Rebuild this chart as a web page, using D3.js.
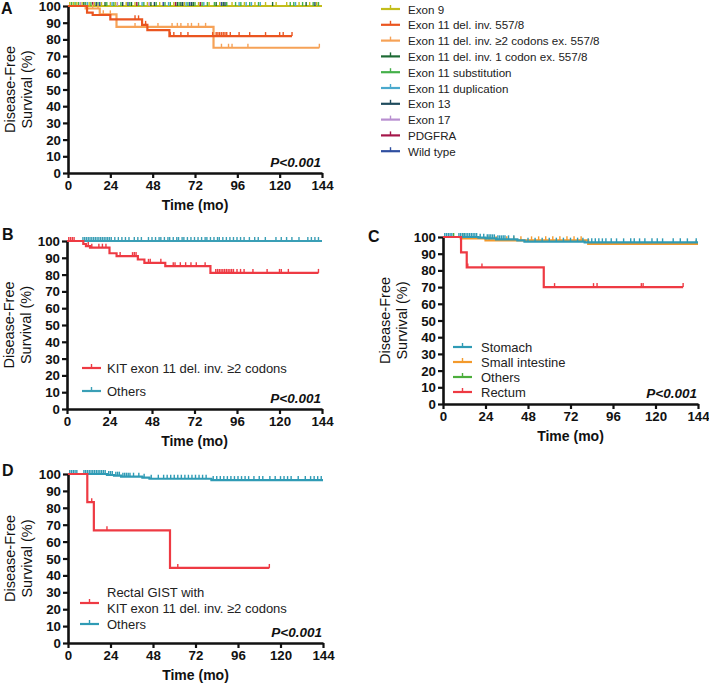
<!DOCTYPE html>
<html><head><meta charset="utf-8">
<script src="https://cdn.jsdelivr.net/npm/d3@7"></script>
<style>
body{margin:0;background:#fff;}
svg{display:block;font-family:"Liberation Sans",Arial,sans-serif;}
</style></head>
<body>
<svg id="c" width="709" height="684"></svg>
<script>
// ---------- tick labels ----------
const timeTicks = [0, 24, 48, 72, 96, 120, 144];
const survTicks = [0, 10, 20, 30, 40, 50, 60, 70, 80, 90, 100];

// ---------- Panel A ----------
const aLegend = ["Exon 9", "Exon 11 del. inv. 557/8", "Exon 11 del. inv. \u22652 codons ex. 557/8",
  "Exon 11 del. inv. 1 codon ex. 557/8", "Exon 11 substitution", "Exon 11 duplication",
  "Exon 13", "Exon 17", "PDGFRA", "Wild type"];
const aColors = ["#c3bd1c", "#ea5520", "#f6a257", "#1d6a34", "#45b04a", "#4aa9cd",
  "#1f4b5d", "#b88fd0", "#a5174a", "#2f4fa0"];
const a557Steps = [[0, 100], [10.8, 96], [14, 94.6], [24, 92], [42, 88.7], [45, 85.5], [57.5, 82], [127, 82]];
const a557Censor = [38, 40, 44, 58, 60, 64, 68, 82, 84, 85, 86, 87, 88, 89, 90, 92, 97, 103, 112, 120, 122, 127];
const a2codSteps = [[0, 100], [10, 98.5], [18, 95], [27.5, 87.5], [82.5, 75], [142.5, 75]];
const a2codCensor = [14, 17, 20, 24, 38, 44, 51, 59, 62, 64, 68, 70, 74, 78, 87, 91, 93, 102, 142.5];
const aExon9Censor = [1, 3, 5, 8, 12, 15, 19, 24, 27, 33, 38, 45, 52, 60, 66, 74, 80, 86, 93, 100, 106, 112, 118, 124, 131, 137, 141];
const a1codCensor = [9, 21, 36, 47, 62, 64, 71, 84, 88, 116, 135];
const aSubstCensor = [2, 4, 6, 10, 13, 17, 22, 26, 30, 35, 40, 43, 50, 55, 58, 63, 68, 72, 76, 79, 83, 90, 95, 98, 103, 108, 126, 128, 133, 139, 142];
const aDupCensor = [11, 25, 42, 57, 67, 77, 97, 101, 104, 109, 129];
const aExon13Censor = [16, 31, 49, 65, 70, 89, 140];
const aExon17Censor = [7, 28, 46];
const aPdgfraCensor = [14, 39, 61, 75];
const aWildCensor = [18, 34, 54, 69, 87];

// ---------- Panel B ----------
const bLegend = ["KIT exon 11 del. inv. \u22652 codons", "Others"];
const bColors = ["#ee3a43", "#3a9fb6"];
const bKitSteps = [[0, 100], [9.2, 98.2], [10.7, 97], [13, 96], [24, 92.7], [28, 91], [40, 89], [43.7, 87], [55.5, 85], [81, 81], [142, 81]];
const bKitCensor = [1, 2, 3, 4, 12, 14, 18, 20, 22, 30, 37, 38, 39, 40, 46, 47, 53, 60, 61, 64, 67, 70, 73, 78, 84, 85, 86, 87, 88, 89, 90, 91, 92, 93, 94, 96, 98, 100, 105, 113, 120, 121, 125, 142];
const bOthSteps = [[0, 100], [144, 100]];
const bOthCensor = [9, 10, 11, 12, 13, 14, 15, 16, 17, 18, 19, 20, 21, 22, 23, 24, 25, 27, 29, 31, 33, 35, 38, 40, 42,
  46, 48, 50, 52, 53, 55, 57, 58, 60, 62, 63, 65, 66, 68, 70, 72, 74, 76, 78, 79, 81, 83, 85, 86, 88, 90, 92, 94, 96,
  98, 100, 103, 106, 108, 112, 118, 121, 124, 127, 131, 136, 138, 140, 142];

// ---------- Panel C ----------
const cLegend = ["Stomach", "Small intestine", "Others", "Rectum"];
const cColors = ["#2f9bb5", "#f39a2c", "#4cae3c", "#ee3a43"];
const cStoSteps = [[0, 100], [20, 99.6], [24, 99.2], [30, 98.6], [42, 98], [46, 97.2], [80, 96.8], [144, 96.8]];
const cStoCensor = [1, 2, 3, 4, 5, 9, 10, 11, 12, 13, 14, 15, 16, 17, 18, 19, 21, 23, 25, 26, 27, 28, 29, 31, 32, 33, 34, 35, 37, 40,
  48, 52, 56, 60, 64, 68, 72, 76, 79, 82, 84, 86, 88, 90, 92, 95, 98, 102, 106, 108, 111, 114, 118, 121, 124, 130, 134, 138, 143];
const cSiSteps = [[0, 100], [10, 99.2], [24, 98], [82, 95.8], [144, 95.8]];
const cSiCensor = [26, 30, 36, 40, 44, 50, 54, 58, 62, 66, 70, 74, 78, 143];
const cOthSteps = [[0, 100], [18, 100]];
const cOthCensor = [6, 12];
const cRecSteps = [[0, 100], [10.2, 90.8], [13.4, 81.8], [56.9, 70], [135.6, 70]];
const cRecCensor = [14, 22, 63, 85, 87, 112, 113, 135.6];

// ---------- Panel D ----------
const dLegend = ["Rectal GIST with", "KIT exon 11 del. inv. \u22652 codons", "Others"];
const dColors = ["#ee3a43", "#2f9bb5"];
const dRecSteps = [[0, 100], [10.9, 83.3], [14.6, 66.7], [57.6, 44.4], [113.7, 44.4]];
const dRecCensor = [13.4, 22, 62, 113.7];
const dOthSteps = [[0, 100], [22, 99.4], [26, 99], [30, 98.4], [42, 97.8], [46, 97.2], [81, 96.4], [144, 96.4]];
const dOthCensor = [1, 2, 3, 4, 5, 9, 10, 11, 12, 13, 14, 15, 16, 17, 18, 19, 20, 21, 23, 24, 25, 27, 28, 29, 31, 32, 33, 34, 35, 37, 40, 43,
  47, 51, 54, 56, 58, 60, 62, 64, 66, 68, 70, 72, 74, 76, 78, 82, 84, 86, 88, 90, 92, 94, 96, 98, 100, 102, 105, 108, 110, 114,
  117, 120, 122, 124, 126, 130, 134, 137, 139, 141, 143];

// ---------- drawing ----------
const svg = d3.select("#c");

function survAt(steps, t) {
  let s = steps[0][1];
  for (const p of steps) { if (p[0] <= t) s = p[1]; }
  return s;
}

function panel(cfg) {
  const g = svg.append("g");
  const x = d3.scaleLinear().domain([0, 144]).range([cfg.x0, cfg.x1]);
  const y = d3.scaleLinear().domain([0, 100]).range([cfg.yBot, cfg.yTop]);
  const ya = g.append("g").attr("transform", `translate(${cfg.x0},0)`)
    .call(d3.axisLeft(y).tickValues(survTicks).tickSize(5).tickPadding(2).tickSizeOuter(0));
  const xa = g.append("g").attr("transform", `translate(0,${cfg.yBot})`)
    .call(d3.axisBottom(x).tickValues(timeTicks).tickSize(5).tickPadding(3).tickSizeOuter(0));
  [ya, xa].forEach(a => {
    a.select(".domain").attr("stroke", "#111").attr("stroke-width", 2.6);
    a.selectAll(".tick line").attr("stroke", "#111").attr("stroke-width", 2.2);
    a.selectAll(".tick text").attr("fill", "#111").style("font-size", "13.3px").style("font-weight", "bold");
  });
  ya.selectAll(".tick text").attr("dy", "0.34em");
  // y title
  const cy = (cfg.yTop + cfg.yBot) / 2;
  const yt = g.append("text").attr("transform", `translate(${cfg.x0 - 53},${cy}) rotate(-90)`)
    .attr("text-anchor", "middle").style("font-size", "14.5px").attr("fill", "#111");
  yt.append("tspan").attr("x", 0).attr("dy", 0).text("Disease-Free");
  yt.append("tspan").attr("x", 0).attr("dy", 16.5).text("Survival (%)");
  // x title
  if (cfg.xTitle) {
    g.append("text").attr("x", (cfg.x0 + cfg.x1) / 2).attr("y", cfg.yBot + 37)
      .attr("text-anchor", "middle").style("font-size", "14px").style("font-weight", "bold")
      .attr("fill", "#111").text("Time (mo)");
  }
  // letter
  g.append("text").attr("x", cfg.lx).attr("y", cfg.ly).style("font-size", "16px")
    .style("font-weight", "bold").attr("fill", "#111").text(cfg.letter);
  // p value
  g.append("text").attr("x", cfg.x1 - 1).attr("y", cfg.yBot - 6).attr("text-anchor", "end")
    .style("font-size", "13.5px").style("font-weight", "bold").style("font-style", "italic")
    .attr("fill", "#111").text("P<0.001");
  return { g, x, y };
}

const line = (p) => d3.line().x(d => p.x(d[0])).y(d => p.y(d[1])).curve(d3.curveStepAfter);

function curve(p, steps, color, w) {
  p.g.append("path").datum(steps).attr("d", line(p)).attr("fill", "none")
    .attr("stroke", color).attr("stroke-width", w || 2);
}
function censors(p, steps, ts, color) {
  p.g.append("g").selectAll("line").data(ts).join("line")
    .attr("x1", d => p.x(d)).attr("x2", d => p.x(d))
    .attr("y1", d => p.y(survAt(steps, d)))
    .attr("y2", d => p.y(survAt(steps, d)) - 4)
    .attr("stroke", color).attr("stroke-width", 1.4);
}
function legendItem(g, x, y, color, text, tx, fs) {
  g.append("line").attr("x1", x).attr("x2", x + 19).attr("y1", y).attr("y2", y)
    .attr("stroke", color).attr("stroke-width", 2.2);
  g.append("line").attr("x1", x + 9.5).attr("x2", x + 9.5).attr("y1", y).attr("y2", y - 4)
    .attr("stroke", color).attr("stroke-width", 1.4);
  if (text) g.append("text").attr("x", tx).attr("y", y + 4.5).style("font-size", (fs || 13) + "px")
    .attr("fill", "#222").text(text);
}

// Panel A
const A = panel({ x0: 68, x1: 322, yTop: 6, yBot: 173, letter: "A", lx: 1, ly: 14, xTitle: true });
const flat = [[0, 100], [142, 100]];
[3, 4, 5, 6, 7, 8, 9].forEach(i => curve(A, flat, aColors[i], 2));
curve(A, [[0, 100], [144, 100]], aColors[0], 2);
const aFlatCens = [aExon9Censor, a1codCensor, aSubstCensor, aDupCensor, aExon13Censor, aExon17Censor, aPdgfraCensor, aWildCensor];
const aFlatIdx = [0, 3, 4, 5, 6, 7, 8, 9];
aFlatCens.forEach((c, k) => censors(A, flat, c, aColors[aFlatIdx[k]]));
curve(A, a2codSteps, aColors[2], 2.2);
censors(A, a2codSteps, a2codCensor, aColors[2]);
curve(A, a557Steps, aColors[1], 2.2);
censors(A, a557Steps, a557Censor, aColors[1]);
aLegend.forEach((t, i) => legendItem(A.g, 381, 9 + i * 15.8, aColors[i], t, 408, 11.6));

// Panel B
const B = panel({ x0: 67, x1: 322, yTop: 241, yBot: 409, letter: "B", lx: 2, ly: 240, xTitle: true });
curve(B, bOthSteps, bColors[1], 2);
censors(B, bOthSteps, bOthCensor, bColors[1]);
curve(B, bKitSteps, bColors[0], 2.2);
censors(B, bKitSteps, bKitCensor, bColors[0]);
legendItem(B.g, 82, 368, bColors[0], bLegend[0], 107);
legendItem(B.g, 82, 391, bColors[1], bLegend[1], 107);

// Panel C
const C = panel({ x0: 443, x1: 698, yTop: 237, yBot: 404, letter: "C", lx: 368, ly: 242, xTitle: true });
curve(C, cOthSteps, cColors[2], 2);
censors(C, cOthSteps, cOthCensor, cColors[2]);
curve(C, cSiSteps, cColors[1], 2.2);
censors(C, cSiSteps, cSiCensor, cColors[1]);
curve(C, cStoSteps, cColors[0], 2.2);
censors(C, cStoSteps, cStoCensor, cColors[0]);
curve(C, cRecSteps, cColors[3], 2.2);
censors(C, cRecSteps, cRecCensor, cColors[3]);
cLegend.forEach((t, i) => legendItem(C.g, 453, 347 + i * 15, cColors[i], t, 481));

// Panel D
const D = panel({ x0: 68, x1: 323, yTop: 474, yBot: 643, letter: "D", lx: 2, ly: 476, xTitle: true });
curve(D, dOthSteps, dColors[1], 2.2);
censors(D, dOthSteps, dOthCensor, dColors[1]);
curve(D, dRecSteps, dColors[0], 2.2);
censors(D, dRecSteps, dRecCensor, dColors[0]);
legendItem(D.g, 80, 603, dColors[0], null, 107);
D.g.append("text").attr("x", 107).attr("y", 597).style("font-size", "13px").attr("fill", "#222").text(dLegend[0]);
D.g.append("text").attr("x", 107).attr("y", 613).style("font-size", "13px").attr("fill", "#222").text(dLegend[1]);
legendItem(D.g, 80, 624, dColors[1], dLegend[2], 107);
</script>
</body></html>
